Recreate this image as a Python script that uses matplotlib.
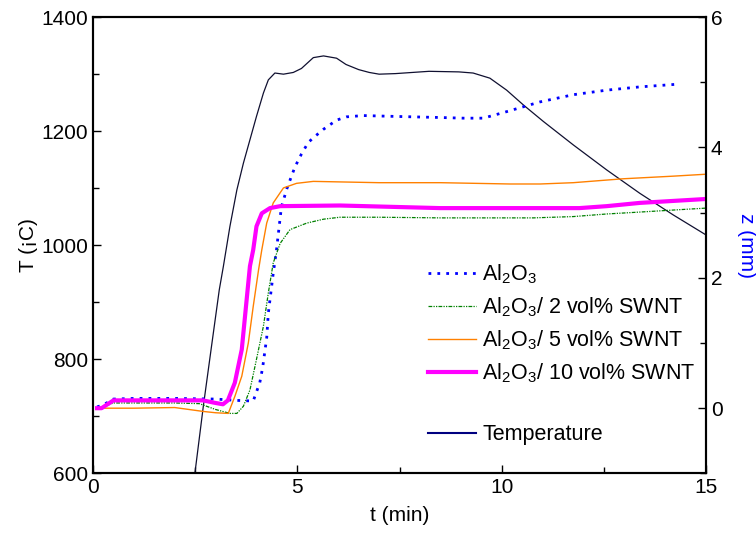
import numpy as np
import matplotlib.pyplot as plt
from matplotlib.lines import Line2D
from matplotlib.ticker import MultipleLocator

plt.rcParams['font.family'] = ['Liberation Sans', 'DejaVu Sans']
plt.rcParams['mathtext.fontset'] = 'custom'
plt.rcParams['mathtext.rm'] = 'Liberation Sans'
plt.rcParams['mathtext.it'] = 'Liberation Sans:italic'

# temperature (left axis)
t_temp = [2.40, 2.50, 2.70, 2.90, 3.09, 3.19, 3.35, 3.52, 3.68, 3.84, 4.00, 4.17,
          4.29, 4.45, 4.66, 4.90, 5.10, 5.39, 5.64, 5.96, 6.19, 6.50, 6.76, 7.00,
          7.40, 7.81, 8.22, 8.95, 9.30, 9.71, 10.12, 10.53, 11.02, 11.75, 12.57,
          13.38, 14.20, 15.00]
T_temp = [547, 604, 718, 823, 922, 963, 1033, 1097, 1144, 1185, 1226, 1267,
          1290, 1302, 1300, 1303, 1310, 1329, 1332, 1328, 1317, 1308, 1303, 1300,
          1301, 1303, 1305, 1304, 1302, 1293, 1272, 1246, 1217, 1176, 1132,
          1091, 1053, 1018]

# z displacement (right axis)
t_al = [0.1, 0.25, 0.5, 1, 2, 3, 3.5, 3.92, 4.0, 4.08, 4.15, 4.25, 4.29, 4.41, 4.49,
        4.61, 4.75, 4.94, 5.1, 5.27, 5.43, 5.64, 5.96, 6.2, 6.61, 7.2, 7.84, 8.5,
        9.06, 9.55, 10.12, 10.94, 11.75, 12.57, 13.38, 14.28]
z_al = [0.02, 0.05, 0.14, 0.15, 0.15, 0.14, 0.12, 0.11, 0.25, 0.39, 0.62, 1.08, 1.46,
        2.07, 2.43, 3.09, 3.38, 3.70, 3.90, 4.08, 4.17, 4.28, 4.42, 4.47, 4.49, 4.48,
        4.47, 4.46, 4.45, 4.45, 4.55, 4.70, 4.81, 4.88, 4.93, 4.97]

t_2 = [0.1, 0.25, 0.5, 1, 2, 2.6, 3.0, 3.35, 3.52, 3.68, 3.84, 4.0, 4.17, 4.29, 4.41,
       4.45, 4.58, 4.82, 5.23, 5.64, 6.04, 7, 8.5, 10.77, 11.75, 12.57, 13.4, 14.19, 15]
z_2 = [0.0, 0.02, 0.08, 0.08, 0.08, 0.07, -0.02, -0.08, -0.08, 0.03, 0.28, 0.75, 1.26,
       1.77, 2.23, 2.30, 2.53, 2.74, 2.84, 2.90, 2.93, 2.93, 2.92, 2.92, 2.94, 2.98,
       3.01, 3.04, 3.07]

t_5 = [0.1, 0.25, 0.5, 1, 2, 2.7, 3.0, 3.31, 3.47, 3.64, 3.80, 3.92, 4.05, 4.13, 4.25,
       4.41, 4.66, 4.98, 5.39, 7.0, 8.5, 10.2, 10.94, 11.75, 12.97, 14.19, 15]
z_5 = [0.0, 0.0, 0.0, 0.0, 0.01, -0.05, -0.07, -0.08, 0.18, 0.49, 1.0, 1.56, 2.12, 2.43,
       2.84, 3.15, 3.38, 3.45, 3.48, 3.46, 3.46, 3.44, 3.44, 3.46, 3.52, 3.56, 3.59]

t_10 = [0.1, 0.21, 0.5, 1, 2, 2.69, 3.0, 3.18, 3.3, 3.47, 3.64, 3.76, 3.84, 3.92, 4.0,
        4.13, 4.33, 4.58, 6.04, 8.49, 10, 11.9, 12.57, 13.38, 14.19, 15]
z_10 = [0.0, 0.0, 0.12, 0.12, 0.12, 0.12, 0.08, 0.06, 0.12, 0.39, 0.9, 1.67, 2.18, 2.43,
        2.79, 2.99, 3.07, 3.10, 3.11, 3.07, 3.07, 3.07, 3.10, 3.15, 3.18, 3.21]

fs = 15

fig = plt.figure(figsize=(7.56, 5.53), dpi=100)
ax = fig.add_axes([0.123, 0.144, 0.811, 0.825])
ax2 = ax.twinx()

ax.plot(t_temp, T_temp, color='#101030', lw=0.9)
ax.set_xlim(0, 15)
ax.set_ylim(600, 1400)

l1, = ax2.plot(t_al, z_al, color='#0000FF', lw=2, ls=(0, (1, 2.2)))
l2, = ax2.plot(t_2, z_2, color='#008000', lw=0.9, ls=(0, (3, 1, 1, 1, 1, 1)))
l3, = ax2.plot(t_5, z_5, color='#FF8000', lw=1.0)
l4, = ax2.plot(t_10, z_10, color='#FF00FF', lw=3)
ax2.set_ylim(-1, 6)

ax.xaxis.set_major_locator(MultipleLocator(5))
ax.xaxis.set_minor_locator(MultipleLocator(2.5))
ax.yaxis.set_major_locator(MultipleLocator(200))
ax.yaxis.set_minor_locator(MultipleLocator(100))
ax2.yaxis.set_major_locator(MultipleLocator(2))
ax2.yaxis.set_minor_locator(MultipleLocator(1))

for a in (ax, ax2):
    a.tick_params(which='both', direction='in', labelsize=fs, width=1)
    a.tick_params(which='major', length=6)
    a.tick_params(which='minor', length=4)
    for s in a.spines.values():
        s.set_linewidth(1.5)
ax.tick_params(top=False, right=False)

ax.set_xlabel('t (min)', fontsize=fs, labelpad=6)
ax.set_ylabel('T (\u00a1C)', fontsize=fs, labelpad=2)
ax2.set_ylabel('z (mm)', fontsize=fs, color='#0000FF', rotation=270, labelpad=24)

blank = Line2D([], [], color='none')
temp_handle = Line2D([], [], color='#000080', lw=1.5)
handles = [l1, l2, l3, l4, blank, temp_handle]
labels = ['Al$_2$O$_3$', 'Al$_2$O$_3$/ 2 vol% SWNT', 'Al$_2$O$_3$/ 5 vol% SWNT',
          'Al$_2$O$_3$/ 10 vol% SWNT', ' ', 'Temperature']
ax2.legend(handles, labels, loc='upper left', bbox_to_anchor=(0.533, 0.481),
           frameon=False, fontsize=15.5, handlelength=2.2, handletextpad=0.3,
           labelspacing=0.43, borderaxespad=0)

fig.savefig('out.png', dpi=100)
